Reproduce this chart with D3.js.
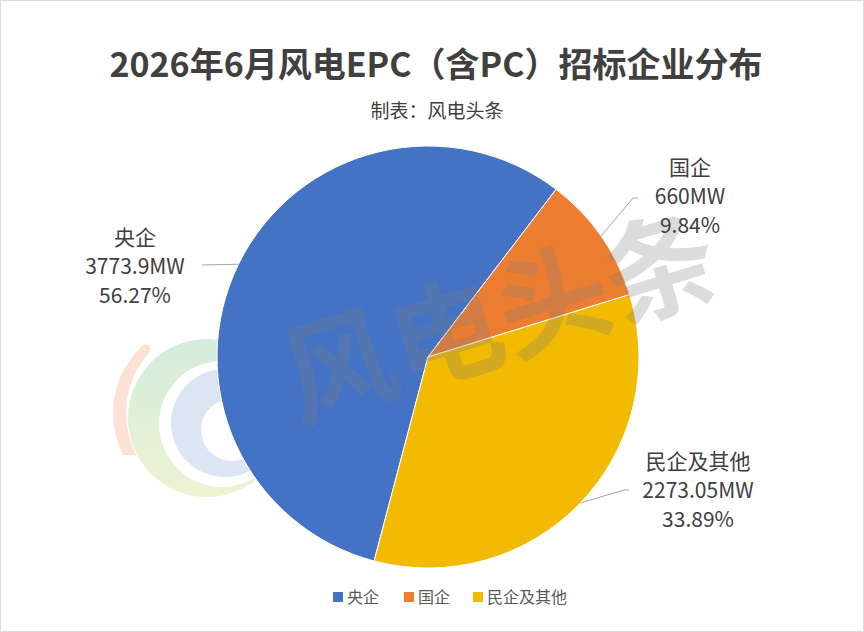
<!DOCTYPE html>
<html>
<head>
<meta charset="utf-8">
<script src="https://cdn.jsdelivr.net/npm/d3@7"></script>
<style>
  body { margin: 0; background: #fff; }
  svg { display: block; font-family: "Noto Sans CJK SC", "Noto Sans", sans-serif; }
</style>
</head>
<body>
<svg width="864" height="632"></svg>
<script>
const categories = ["央企", "国企", "民企及其他"];
const values = [3773.9, 660, 2273.05];
const colors = ["#4472C4", "#ED7D31", "#F2BA00"];
const unit = "MW";

const svg = d3.select("svg");
const width = +svg.attr("width");
const height = +svg.attr("height");

svg.append("rect")
    .attr("x", 0.5).attr("y", 0.5)
    .attr("width", width - 1).attr("height", height - 1)
    .attr("fill", "#fff").attr("stroke", "#d9d9d9");

svg.append("text")
    .attr("x", 436).attr("y", 77)
    .attr("text-anchor", "middle")
    .style("font-size", "34px").style("font-weight", "bold")
    .style("fill", "#404040")
    .text("2026年6月风电EPC（含PC）招标企业分布");

svg.append("text")
    .attr("x", 437).attr("y", 118)
    .attr("text-anchor", "middle")
    .style("font-size", "19px")
    .style("fill", "#404040")
    .text("制表：风电头条");

// faint logo on the left
const defs = svg.append("defs");
defs.append("clipPath").attr("id", "leftClip")
    .append("rect").attr("x", 100).attr("y", 345).attr("width", 50).attr("height", 110);
const grad = defs.append("linearGradient").attr("id", "greenGrad")
    .attr("x1", 0).attr("y1", 0).attr("x2", 0).attr("y2", 1);
grad.append("stop").attr("offset", "0%").attr("stop-color", "#d3ecdc");
grad.append("stop").attr("offset", "100%").attr("stop-color", "#eef3d2");

function circ(x, y, rr) {
    return "M" + (x - rr) + "," + y + "a" + rr + "," + rr + " 0 1,0 " + (2 * rr) + ",0" +
        "a" + rr + "," + rr + " 0 1,0 " + (-2 * rr) + ",0Z";
}
const logo = svg.append("g");
logo.append("path").attr("fill", "#fbe2d4").attr("fill-rule", "evenodd")
    .attr("clip-path", "url(#leftClip)")
    .attr("d", circ(205, 413, 92) + circ(216, 413, 90));
logo.append("path").attr("fill", "url(#greenGrad)").attr("fill-rule", "evenodd")
    .attr("d", circ(207, 418, 79) + circ(222, 424, 63));
logo.append("path").attr("fill", "#dce6f3").attr("fill-rule", "evenodd")
    .attr("d", circ(225, 423, 54) + circ(232, 430, 31));

const cx = 428, cy = 357, r = 211;
const total = d3.sum(values);
const data = categories.map((c, i) => ({ name: c, value: values[i], color: colors[i] }));

const pie = d3.pie()
    .sort(null)
    .value(d => d.value)
    .startAngle(-165.2 * Math.PI / 180)
    .endAngle((360 - 165.2) * Math.PI / 180);

const arc = d3.arc().innerRadius(0).outerRadius(r);
const arcs = pie(data);

const g = svg.append("g").attr("transform", "translate(" + cx + "," + cy + ")");

g.selectAll(".slice")
    .data(arcs)
    .enter().append("path")
    .attr("class", "slice")
    .attr("d", arc)
    .attr("fill", d => d.data.color)
    .attr("stroke", "#fff")
    .attr("stroke-width", 1);

// watermark
const wm = svg.append("g")
    .attr("transform", "translate(500,318) rotate(-17)")
    .style("font-size", "112px").style("font-weight", "bold")
    .style("fill", "#7f7f7f").style("fill-opacity", 0.27);
wm.append("text").attr("text-anchor", "middle").attr("y", 40).text("风电头条");

// label block centres and leader-line ends
const labelPos = [
    { x: 135, y: 237, lx: 202, ly: 265 },
    { x: 690, y: 167, lx: 638, ly: 198 },
    { x: 698, y: 461, lx: 629, ly: 490 }
];

arcs.forEach((d, i) => {
    const mid = (d.startAngle + d.endAngle) / 2;
    const ex = cx + r * Math.sin(mid), ey = cy - r * Math.cos(mid);
    const p = labelPos[i];
    let pts;
    if (i === 0) pts = [[ex, ey], [p.lx, p.ly]];
    else pts = [[ex, ey], [p.lx - 5, p.ly], [p.lx, p.ly]];
    svg.append("path")
        .attr("d", d3.line()(pts))
        .attr("fill", "none").attr("stroke", "#a6a6a6").attr("stroke-width", 1);

    const t = svg.append("text")
        .attr("text-anchor", "middle")
        .style("font-size", "21px").style("fill", "#404040");
    const lines = [d.data.name, d.data.value + unit, (d.data.value / total * 100).toFixed(2) + "%"];
    lines.forEach((s, k) => {
        t.append("tspan").attr("x", p.x).attr("y", p.y + 8 + k * 29).text(s);
    });
});

// legend
const legendX = [333, 404, 473];
const leg = svg.selectAll(".leg")
    .data(data)
    .enter().append("g")
    .attr("class", "leg")
    .attr("transform", (d, i) => "translate(" + legendX[i] + ",597)");
leg.append("rect")
    .attr("x", 0).attr("y", -5).attr("width", 10).attr("height", 10)
    .attr("fill", d => d.color);
leg.append("text")
    .attr("x", 14).attr("y", 6)
    .style("font-size", "16px").style("fill", "#595959")
    .text(d => d.name);
</script>
</body>
</html>
